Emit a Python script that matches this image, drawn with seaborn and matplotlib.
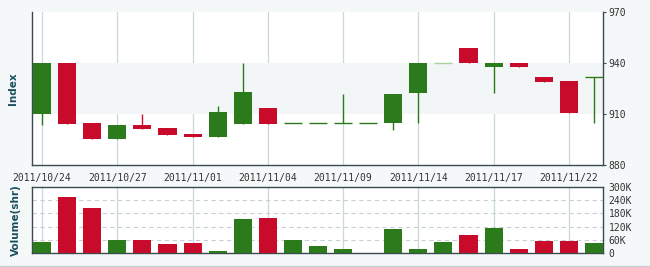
import numpy as np
import pandas as pd
import matplotlib
matplotlib.use("Agg")
import matplotlib.pyplot as plt
import seaborn as sns

dates = ["2011/10/24", "2011/10/25", "2011/10/26", "2011/10/27", "2011/10/28",
         "2011/10/31", "2011/11/01", "2011/11/02", "2011/11/03", "2011/11/04",
         "2011/11/07", "2011/11/08", "2011/11/09", "2011/11/10", "2011/11/11",
         "2011/11/14", "2011/11/15", "2011/11/16", "2011/11/17", "2011/11/18",
         "2011/11/21", "2011/11/22", "2011/11/23"]
opens  = [910.0, 940.0, 904.7, 895.5, 903.5, 901.8, 898.2, 896.5, 904.3, 913.5,
          904.5, 904.5, 904.5, 904.5, 904.5, 922.5, 939.8, 948.6, 937.8, 940.0,
          931.6, 929.4, 931.6]
closes = [940.0, 904.3, 895.5, 903.5, 901.0, 897.6, 896.5, 911.0, 923.0, 904.3,
          904.5, 904.5, 904.5, 904.5, 921.6, 940.0, 939.8, 940.0, 940.0, 937.6,
          928.8, 910.8, 931.6]
highs  = [940.0, 940.0, 904.7, 903.5, 910.0, 901.8, 898.2, 914.7, 940.0, 913.5,
          904.5, 904.5, 922.0, 904.5, 921.6, 940.0, 939.8, 948.6, 940.0, 940.0,
          931.6, 929.4, 931.6]
lows   = [903.5, 904.3, 895.5, 895.5, 901.0, 897.6, 896.5, 896.5, 904.3, 904.3,
          904.5, 904.5, 904.5, 904.5, 900.6, 904.5, 939.8, 940.0, 922.5, 937.6,
          928.8, 910.8, 904.5]
volumes_k = [50, 253, 204, 59, 59, 41, 45, 9, 154, 158, 59, 32, 18, 1, 109,
             18, 50, 81, 113, 18, 54, 54, 45]
# direction of each candle as drawn (up = green, down = red, flat = pale)
candle_dirs = ["up", "down", "down", "up", "down", "down", "down", "up", "up", "down",
               "up", "up", "up", "up", "up", "up", "flat", "down", "up", "down",
               "down", "down", "up"]
# colour of each volume bar as drawn
volume_dirs = ["up", "down", "down", "up", "down", "down", "down", "up", "up", "down",
               "up", "up", "up", "up", "up", "up", "up", "down", "up", "down",
               "down", "down", "up"]

date_ticks = ["2011/10/24", "2011/10/27", "2011/11/01", "2011/11/04",
              "2011/11/09", "2011/11/14", "2011/11/17", "2011/11/22"]
price_ticks = [880, 910, 940, 970]
volume_ticks = [0, 60, 120, 180, 240, 300]
volume_labels = ["0", "60K", "120K", "180K", "240K", "300K"]

GREEN = "#2b7a1b"
RED = "#c90b2b"
LIGHTG = "#a9d39b"
colors = {"up": GREEN, "down": RED, "flat": LIGHTG}

df = pd.DataFrame({"date": dates, "open": opens, "close": closes, "high": highs,
                   "low": lows, "volume": volumes_k, "cdir": candle_dirs,
                   "vdir": volume_dirs})
df["x"] = np.arange(len(df))

sns.set_theme(style="white")
plt.rcParams["font.family"] = ["DejaVu Sans"]

fig = plt.figure(figsize=(6.5, 2.67), dpi=100)
fig.patch.set_facecolor("#f5f8f9")

L, W = 32 / 650, (603 - 32) / 650
axp = fig.add_axes([L, 1 - 165 / 267, W, (165 - 12) / 267])
axv = fig.add_axes([L, 1 - 253 / 267, W, (253 - 187) / 267])

tick_pos = [dates.index(d) for d in date_ticks]
grid_col = "#c9d8de"
spine_col = "#3a4a50"
text_col = "#333333"
lab_col = "#1b4f5e"

for ax in (axp, axv):
    ax.set_facecolor("white")
    ax.set_xlim(-0.4, 22.36)
    for p in tick_pos:
        ax.axvline(p, color=grid_col, lw=0.9, zorder=0)

# price panel
axp.axhspan(910, 940, color="#f3f6f7", zorder=0, lw=0)
bw = 0.72
for _, r in df.iterrows():
    c = colors[r["cdir"]]
    axp.vlines(r["x"], r["low"], r["high"], color=c, lw=1.0, zorder=2)
    lo, hi = min(r["open"], r["close"]), max(r["open"], r["close"])
    if hi - lo < 0.6:
        axp.hlines(lo, r["x"] - bw / 2, r["x"] + bw / 2, color=c, lw=1.0, zorder=3)
    else:
        axp.bar(r["x"], hi - lo, bottom=lo, width=bw, color=c, zorder=3, lw=0)

axp.set_ylim(880, 970)
axp.yaxis.tick_right()
axp.set_yticks(price_ticks)
axp.set_yticklabels([str(t) for t in price_ticks], family="DejaVu Sans Mono",
                    fontsize=7, color=text_col)
axp.tick_params(axis="y", length=2, pad=2, color=spine_col, width=0.8)
axp.set_xticks(tick_pos)
axp.set_xticklabels(date_ticks, family="DejaVu Sans Mono", fontsize=7, color=text_col)
axp.tick_params(axis="x", length=0, pad=6)
axp.set_ylabel("Index", fontsize=7.5, fontweight="bold", color=lab_col, labelpad=10)
axp.yaxis.set_label_position("left")
for s in ("left", "right", "bottom"):
    axp.spines[s].set_color(spine_col)
    axp.spines[s].set_linewidth(1.0)
axp.spines["top"].set_visible(False)

# volume panel
sns.barplot(data=df, x="x", y="volume", hue="vdir", palette=colors, dodge=False,
            width=bw, legend=False, ax=axv, zorder=3, linewidth=0, saturation=1)
axv.set_xlim(-0.4, 22.36)
axv.set_ylim(0, 300)
for t in volume_ticks[1:-1]:
    axv.axhline(t, color="#c8d0d4", lw=0.8, ls=(0, (4, 3)), zorder=1)
axv.yaxis.tick_right()
axv.set_yticks(volume_ticks)
axv.set_yticklabels(volume_labels, family="DejaVu Sans Mono", fontsize=7, color=text_col)
axv.tick_params(axis="y", length=0, pad=4)
axv.set_xticks([])
axv.set_xlabel("")
axv.set_ylabel("Volume(shr)", fontsize=7.5, fontweight="bold", color=lab_col, labelpad=8)
axv.yaxis.set_label_position("left")
for s in axv.spines.values():
    s.set_color(spine_col)
    s.set_linewidth(1.0)

fig.add_artist(plt.Line2D([0, 1], [1.5 / 267, 1.5 / 267], color="#c5cdd0", lw=1.0))

fig.savefig("out.png", dpi=100, facecolor=fig.get_facecolor())
